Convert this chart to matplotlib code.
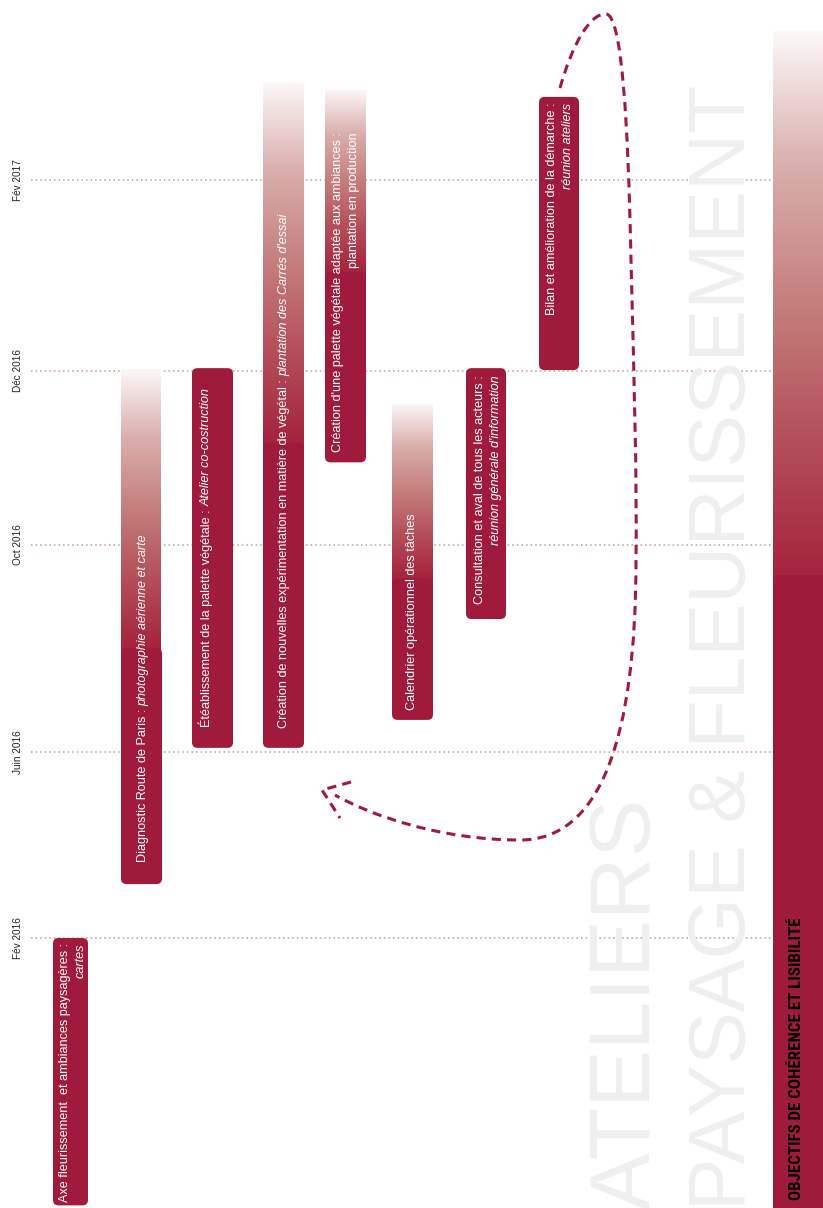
import numpy as np
import matplotlib
matplotlib.use('Agg')
import matplotlib.pyplot as plt
import matplotlib.transforms as mtransforms
from matplotlib import font_manager
from matplotlib.patches import FancyBboxPatch, PathPatch
from matplotlib.path import Path
from matplotlib.colors import LinearSegmentedColormap

plt.rcParams['font.family'] = ['Liberation Sans', 'DejaVu Sans']

# ---------- data (time in months counted from Feb 2016) ----------
date_months = [0, 4, 8, 10, 12]
date_labels = ['Fév 2016', 'Juin 2016', 'Oct 2016', 'Déc 2016', 'Fév 2017']

task_titles = [
    'Axe fleurissement  et ambiances paysagères :',
    'Diagnostic Route de Paris :',
    'Étéablissement de la palette végétale :',
    'Création de nouvelles expérimentation en matière de végétal :',
    "Création d'une palette végétale adaptée aux ambiances :",
    'Calendrier opérationnel des tâches',
    'Consultation et aval de tous les acteurs :',
    'Bilan et amélioration de la démarche :',
]
task_notes = [
    'cartes',
    'photographie aérienne et carte',
    'Atelier co-costruction',
    "plantation des Carrés d'essai",
    'plantation en production',
    '',
    "réunion générale d'information",
    'réunion ateliers',
]
task_start = [-5.75, 1.16, 4.08, 4.08, 8.95, 4.62, 6.57, 10.01]
task_end = [0.0, 6.01, 10.03, 9.18, 11.04, 7.36, 10.03, 12.87]
task_fade = [None, 10.03, None, 13.03, 12.96, 9.63, None, None]

goal_label = 'OBJECTIFS DE COHÉRENCE ET LISIBILITÉ'
goal_start, goal_end, goal_fade = -6.5, 7.42, 13.57

title_big = ['ATELIERS', 'PAYSAGE & FLEURISSEMENT']

# ---------- layout ----------
W, H = 823, 1208
CRIMSON = '#A01B3B'
col_x = [53, 121, 192, 263, 325, 392, 466, 539]
col_w = [35, 41, 41, 41, 41, 41, 40, 40]
txt_mode = ['top', 'inline', 'inline', 'inline', 'bottom', 'inline', 'top', 'top']
txt_off = [5, 22, 21, 20, 10, 10, 7, 6]
txt_base = [(68, 84), (146,), (210,), (287,), (341, 357), (415,), (483, 499), (555, 571)]
note_italic = [True, True, True, True, False, False, True, True]

# irregular time axis: pixel height (from bottom) of each date line
knot_m = np.array([-30.0, 0, 4, 8, 10, 12, 30])
knot_p = np.array([270 - 30 * 46.5, 270, 456, 663, 837, 1028, 1028 + 18 * 95.5])


def fwd(m):
    return np.interp(m, knot_m, knot_p)


def inv(p):
    return np.interp(p, knot_p, knot_m)


# pick a narrow family for the bold label of the right column
_installed = {f.name for f in font_manager.fontManager.ttflist}
narrow = 'DejaVu Sans'
for cand in ['Roboto Condensed', 'Open Sans Condensed', 'Liberation Sans Narrow']:
    if cand in _installed:
        narrow = cand
        break

fig = plt.figure(figsize=(W / 100, H / 100), dpi=100)
fig.patch.set_facecolor('white')
ax = fig.add_axes([0, 0, 1, 1])
ax.set_yscale('function', functions=(fwd, inv))
ax.set_xlim(0, W)
ax.set_ylim(inv(0), inv(H))
ax.axis('off')

# pixel coordinates of the figure, y pointing down
pix = mtransforms.Affine2D().scale(1 / W, -1 / H).translate(0, 1) + fig.transFigure
to_in = ax.transData + fig.dpi_scale_trans.inverted()

fade_cmap = LinearSegmentedColormap.from_list(
    'fade', [(0, '#A5243E'), (0.25, '#B4505A'), (0.5, '#C57F7D'),
             (0.75, '#D9AEAB'), (1, '#FCF8F8')])


def rounded_bar(x0, w, m0, m1, z=3):
    (ix0, iy0), (ix1, iy1) = to_in.transform([(x0, m0), (x0 + w, m1)])
    p = FancyBboxPatch((ix0, iy0), ix1 - ix0, iy1 - iy0,
                       boxstyle='round,pad=0,rounding_size=0.055',
                       transform=fig.dpi_scale_trans, fc=CRIMSON, ec='none', zorder=z)
    ax.add_artist(p)


def fade_bar(x0, w, m_solid, m_top):
    p_solid, p_top = fwd(m_solid), fwd(m_top)
    m_low = inv(p_solid - 10)
    rows = np.linspace(m_low, m_top, 300)
    t = np.clip((fwd(rows) - p_solid) / (p_top - p_solid), 0, 1)
    img = fade_cmap(t)[:, None, :]
    ax.imshow(img, extent=(x0, x0 + w, m_low, m_top), origin='lower',
              aspect='auto', interpolation='bilinear', zorder=2)


def fit_length(t, target):
    fig.canvas.draw()
    size = t.get_fontsize()
    t.set_fontsize(size * target / t.get_window_extent().height)


# ---------- big light titles ----------
big_specs = [(650, 1210, 412), (745, 1210, 1126)]
for txt, (bx, by, length) in zip(title_big, big_specs):
    t = fig.text(bx, by, txt, transform=pix, rotation=90, rotation_mode='anchor',
                 ha='left', va='baseline', color='#EEEFEF', fontsize=50,
                 family=['Liberation Sans', 'DejaVu Sans'], zorder=0.5)
    fit_length(t, length)

# ---------- date lines ----------
ax.hlines(date_months, 31, 773, colors='#C49C8E', linestyles=(0, (1, 2)), lw=1.1, zorder=1)
for m, lab in zip(date_months, date_labels):
    ax.text(18, m, lab, rotation=90, ha='center', va='center', fontsize=7.2, color='#222222')

# ---------- task bars ----------
for i in range(len(task_titles)):
    x0, w = col_x[i], col_w[i]
    if task_fade[i] is not None:
        fade_bar(x0, w, task_end[i], task_fade[i])
    rounded_bar(x0, w, task_start[i], task_end[i])

    kw = dict(rotation=90, rotation_mode='anchor', va='baseline', color='white',
              fontsize=9.1, textcoords='offset pixels', zorder=5)
    nstyle = 'italic' if note_italic[i] else 'normal'
    mode = txt_mode[i]
    if mode == 'inline':
        t1 = ax.annotate(task_titles[i], xy=(txt_base[i][0], task_start[i]),
                         xytext=(0, txt_off[i]), ha='left', **kw)
        if task_notes[i]:
            ax.annotate(task_notes[i], xy=(txt_base[i][0], 1), xycoords=('data', t1),
                        xytext=(0, 3), ha='left', style=nstyle, **kw)
    elif mode == 'top':
        ax.annotate(task_titles[i], xy=(txt_base[i][0], task_end[i]),
                    xytext=(0, -txt_off[i]), ha='right', **kw)
        ax.annotate(task_notes[i], xy=(txt_base[i][1], task_end[i]),
                    xytext=(0, -txt_off[i]), ha='right', style=nstyle, **kw)
    else:
        t1 = ax.annotate(task_titles[i], xy=(txt_base[i][0], task_start[i]),
                         xytext=(0, txt_off[i]), ha='left', **kw)
        ax.annotate(task_notes[i], xy=(txt_base[i][1], 1), xycoords=('data', t1),
                    xytext=(0, 0), ha='right', style=nstyle, **kw)

# ---------- goal column on the right ----------
fade_bar(773, 60, goal_end, goal_fade)
rounded_bar(773, 60, goal_start, goal_end)
g = fig.text(801, 1200, goal_label, transform=pix, rotation=90, rotation_mode='anchor',
             ha='left', va='baseline', color='black', fontsize=9, fontweight='bold',
             family=[narrow, 'DejaVu Sans'], fontstretch='condensed', zorder=6)
fit_length(g, 282)

# ---------- dashed feedback arrow ----------
loop = [(560, 88),
        (572, 45), (590, 13), (606, 14),
        (622, 15), (628, 120), (631, 260),
        (634, 380), (637, 470), (636, 560),
        (636, 740), (600, 840), (520, 840),
        (440, 840), (370, 815), (335, 795)]
codes = [Path.MOVETO] + [Path.CURVE4] * 15
dash = dict(fc='none', ec=CRIMSON, lw=2.2, linestyle=(0, (3, 2)), capstyle='butt',
            transform=pix, zorder=7)
fig.add_artist(PathPatch(Path(loop, codes), **dash))
head = [(351, 782), (322, 790), (340, 818)]
fig.add_artist(PathPatch(Path(head, [Path.MOVETO, Path.LINETO, Path.LINETO]), **dash))

ax.set_xlim(0, W)
ax.set_ylim(inv(0), inv(H))
fig.savefig('out.png', dpi=100)
